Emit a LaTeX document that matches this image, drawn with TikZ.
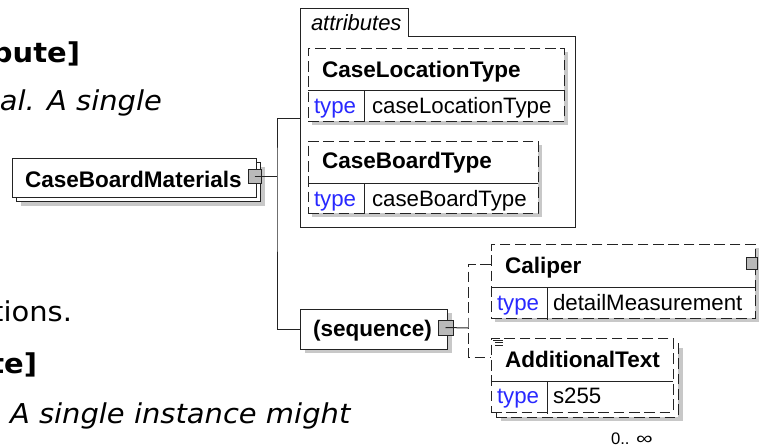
\documentclass[tikz,border=0pt]{standalone}
\usepackage{fontspec}
\usepackage{graphicx}
\setmainfont{Liberation Sans}
\newfontfamily\verd[FakeStretch=1.06]{DejaVu Sans}
\usetikzlibrary{fit}
\definecolor{typeblue}{RGB}{40,40,255}
\definecolor{lncol}{RGB}{35,35,35}
\definecolor{shcol}{RGB}{200,200,200}
\definecolor{iconcol}{RGB}{185,185,185}
\newcommand\mkbox[6]{\path (#2,#3) coordinate (#1-a) (#4,#5) coordinate (#1-b); \node[fit=(#1-a)(#1-b), inner sep=0pt, #6] (#1) {};}
\begin{document}
\begin{tikzpicture}[x=0.75pt,y=-0.75pt,
  every node/.style={inner sep=0pt, outer sep=0pt},
  ln/.style={draw=lncol, line width=0.75pt},
  dsh/.style={dash pattern=on 8pt off 3.5pt},
  shd/.style={fill=shcol, draw=none},
  wbox/.style={ln, fill=white},
  dbox/.style={ln, dsh, fill=white},
  ttl/.style={anchor=base west, font=\bfseries\fontsize{16.9}{20}\selectfont},
  txt/.style={anchor=base west, font=\fontsize{16.7}{20}\selectfont},
  tykey/.style={txt, text=typeblue},
  icon/.style={ln, fill=iconcol},
  lbold/.style={font={\verd\bfseries\fontsize{20.5}{24}\selectfont}},
  lital/.style={font={\verd\itshape\fontsize{20.5}{24}\selectfont}},
  lreg/.style={font={\verd\fontsize{20.5}{24}\selectfont}}]
\path[use as bounding box, fill=white] (0,0) rectangle (763,446);
\clip (0,0) rectangle (763,446);

% ---- left text fragments
\node[lbold, anchor=base east] (lt1) at (80,62) {bute]};
\node[lital, anchor=base east] (lt2) at (162,110) {al. A single};
\node[lreg, anchor=base east] (lt3) at (72,321) {tions.};
\node[lbold, anchor=base east] (lt4) at (37,373) {te]};
\node[lital, anchor=base west] (lt5) at (10,423) {A single instance might};

% ---- CaseBoardMaterials
\mkbox{cbmS}{21}{167}{265}{206}{shd}
\mkbox{cbmB}{16}{162}{260}{201}{wbox}
\mkbox{cbm}{12}{158}{256}{197}{wbox}
\node[ttl] (cbmT) at (25,187) {CaseBoardMaterials};
\mkbox{cbmI}{248}{169}{261}{183}{icon}

% ---- attributes container
\mkbox{attr}{300}{36}{575}{227}{}
\draw[ln, fill=white] (attr.south west) -- (300,8) -- (408,8) -- (408,36) -- (attr.north east) -- (attr.south east) -- cycle;
\node[txt, font=\itshape\fontsize{16.5}{20}\selectfont] (attrT) at (311,31) {attributes};

% CaseLocationType
\mkbox{clS}{312}{52}{568}{125}{shd}
\mkbox{cl}{308}{48}{564}{121}{dbox}
\draw[ln] (308,90) -- (564,90) (364,90) -- (364,121);
\node[ttl] (clT) at (322,77) {CaseLocationType};
\node[tykey] (clK) at (314,113) {type};
\node[txt] (clV) at (372,113) {caseLocationType};

% CaseBoardType
\mkbox{cbS}{312}{145}{542}{217}{shd}
\mkbox{cb}{308}{141}{538}{213}{dbox}
\draw[ln] (308,183) -- (538,183) (364,183) -- (364,213);
\node[ttl] (cbT) at (322,168) {CaseBoardType};
\node[tykey] (cbK) at (314,206) {type};
\node[txt] (cbV) at (372,206) {caseBoardType};

% ---- sequence
\mkbox{seqS}{305}{313}{452}{353}{shd}
\mkbox{seq}{300}{309}{447}{349}{wbox}
\node[ttl] (seqT) at (313,336) {(sequence)};
\mkbox{seqI}{438}{320}{453}{335}{icon}

% ---- Caliper
\mkbox{calS}{495}{248}{759}{322}{shd}
\mkbox{cal}{491}{244}{755}{318}{dbox}
\draw[ln] (491,287) -- (755,287) (547,287) -- (547,320);
\node[ttl] (calT) at (505,273) {Caliper};
\node[tykey] (calK) at (497,310) {type};
\node[txt] (calV) at (553,310) {detailMeasurement};
\mkbox{calI}{746}{257}{757}{269}{icon}

% ---- AdditionalText
\mkbox{adS}{501}{348}{683}{421}{shd}
\mkbox{adB}{496}{343}{678}{417}{dbox}
\mkbox{ad}{491}{338}{673}{412}{dbox}
\draw[ln] (491,381) -- (673,381) (547,381) -- (547,414);
\draw[ln, line width=0.6pt] (493,340) -- (503,340) (495,342.5) -- (503,342.5) (495,345) -- (503,345);
\node[ttl] (adT) at (505,367) {AdditionalText};
\node[tykey] (adK) at (497,403) {type};
\node[txt] (adV) at (553,403) {s255};
\node[anchor=base west, font=\fontsize{12.5}{15}\selectfont] (adM) at (611,444) {0..\hspace{5pt}\scalebox{1.4}[1.05]{∞}};

% ---- connectors
\coordinate (j1) at (277,176);
\coordinate (atin) at (300,118);
\draw[ln] (cbmI.center) -- (j1);
\draw[ln] (atin) -| (j1) |- (seq.west);
\coordinate (j2) at (468,328);
\coordinate (calin) at (491,264);
\coordinate (adin) at (491,357);
\draw[ln] (seqI.center) -- (j2);
\draw[ln, dsh] (calin) -| (j2) |- (adin);
\end{tikzpicture}
\end{document}
